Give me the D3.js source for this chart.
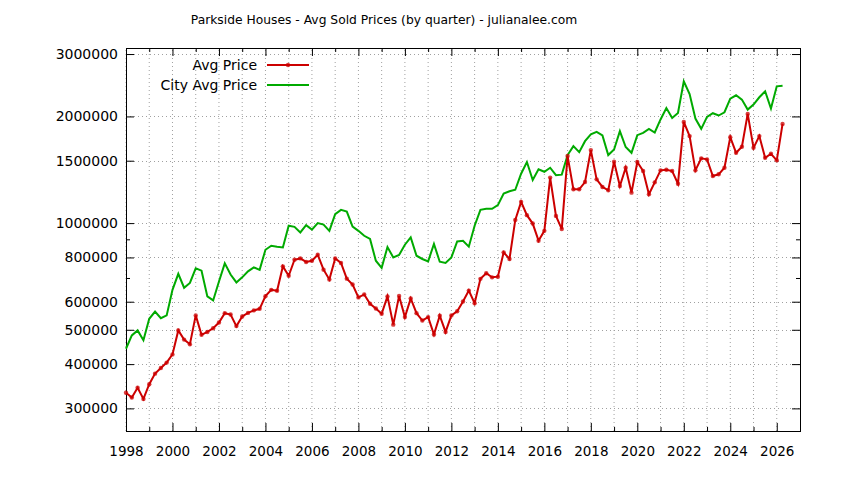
<!DOCTYPE html>
<html>
<head>
<meta charset="utf-8">
<script src="https://cdn.jsdelivr.net/npm/d3@7"></script>
<style>
  html, body { margin: 0; padding: 0; background: #fff; }
  svg { display: block; }
  text { font-family: "DejaVu Sans", sans-serif; fill: #000; }
</style>
</head>
<body>
<svg id="chart" width="844" height="480"></svg>
<script>
const title = "Parkside Houses - Avg Sold Prices (by quarter) - julianalee.com";
const seriesNames = ["Avg Price", "City Avg Price"];
const startYear = 1998;
const avgPrice = [
  332000, 322000, 343000, 319000, 351000, 376000, 390000, 404000,
  426000, 498000, 469000, 455000, 549000, 484000, 493000, 505000,
  524000, 557000, 552000, 512000, 545000, 558000, 567000, 573000,
  622000, 648000, 644000, 755000, 710000, 788000, 795000, 777000,
  783000, 814000, 739000, 693000, 795000, 772000, 697000, 671000,
  617000, 629000, 592000, 574000, 555000, 621000, 517000, 623000,
  543000, 613000, 557000, 531000, 543000, 485000, 548000, 493000,
  549000, 564000, 601000, 645000, 594000, 696000, 722000, 703000,
  706000, 827000, 792000, 1021000, 1148000, 1053000, 997000, 892000,
  951000, 1344000, 1048000, 962000, 1546000, 1246000, 1246000, 1306000,
  1607000, 1329000, 1265000, 1238000, 1490000, 1273000, 1433000, 1219000,
  1487000, 1403000, 1206000, 1303000, 1409000, 1415000, 1403000, 1292000,
  1930000, 1760000, 1409000, 1523000, 1513000, 1358000, 1373000, 1433000,
  1748000, 1579000, 1642000, 2033000, 1631000, 1760000, 1529000, 1569000,
  1504000, 1905000
];
const cityAvgPrice = [
  442000, 482000, 498000, 467000, 537000, 563000, 539000, 549000,
  648000, 719000, 657000, 678000, 745000, 734000, 621000, 605000,
  684000, 770000, 716000, 680000, 703000, 731000, 750000, 738000,
  841000, 863000, 858000, 854000, 983000, 976000, 941000, 987000,
  959000, 1000000, 990000, 951000, 1060000, 1090000, 1078000, 978000,
  951000, 921000, 902000, 783000, 748000, 856000, 800000, 813000,
  869000, 911000, 809000, 792000, 780000, 873000, 778000, 772000,
  800000, 888000, 892000, 858000, 983000, 1090000, 1097000, 1097000,
  1124000, 1211000, 1230000, 1242000, 1378000, 1487000, 1323000, 1418000,
  1396000, 1433000, 1365000, 1370000, 1556000, 1649000, 1586000, 1703000,
  1780000, 1809000, 1768000, 1556000, 1614000, 1817000, 1639000, 1579000,
  1771000, 1798000, 1845000, 1802000, 1961000, 2113000, 1981000, 2046000,
  2513000, 2314000, 1973000, 1845000, 1994000, 2042000, 2012000, 2055000,
  2246000, 2295000, 2231000, 2091000, 2161000, 2265000, 2355000, 2105000,
  2432000, 2443000
];
const yTickValues = [300000, 400000, 500000, 600000, 800000, 1000000, 1500000, 2000000, 3000000];
const yMinorTickValues = [700000, 900000];
const xTickValues = [1998, 2000, 2002, 2004, 2006, 2008, 2010, 2012, 2014, 2016, 2018, 2020, 2022, 2024, 2026];
const xMinorTickValues = [1999, 2001, 2003, 2005, 2007, 2009, 2011, 2013, 2015, 2017, 2019, 2021, 2023, 2025];
const xDomain = [1998, 2027];
const yDomain = [259000, 3120000];

const colors = { avg: "#cc0000", city: "#00aa00", grid: "#a0a0a0" };
const W = 844, H = 480;
const m = { left: 126, right: 44, top: 48, bottom: 49 };
const svg = d3.select("#chart");

const x = d3.scaleLinear().domain(xDomain).range([m.left, W - m.right]);
const y = d3.scaleLog().domain(yDomain).range([H - m.bottom, m.top]);

const avgData = avgPrice.map((v, i) => ({ t: startYear + i / 4, v }));
const cityData = cityAvgPrice.map((v, i) => ({ t: startYear + i / 4, v }));

// grid
const g = svg.append("g");
g.selectAll(".vg").data(xTickValues.concat(xMinorTickValues)).enter().append("line")
  .attr("x1", d => x(d)).attr("x2", d => x(d))
  .attr("y1", y.range()[0]).attr("y2", y.range()[1])
  .attr("stroke", colors.grid).attr("stroke-width", 1).attr("stroke-dasharray", "1,3");
g.selectAll(".hg").data(yTickValues).enter().append("line")
  .attr("x1", x.range()[0]).attr("x2", x.range()[1])
  .attr("y1", d => Math.round(y(d)) + 0.5).attr("y2", d => Math.round(y(d)) + 0.5)
  .attr("stroke", colors.grid).attr("stroke-width", 1).attr("stroke-dasharray", "1,3");

// axes (inward ticks, mirrored)
const tickFmt = d3.format("d");
svg.append("g").attr("transform", `translate(0,${y.range()[0]})`)
  .call(d3.axisBottom(x).tickValues(xTickValues).tickFormat(tickFmt).tickSizeInner(-8).tickSizeOuter(0).tickPadding(15))
  .call(a => a.select(".domain").remove())
  .call(a => a.selectAll("text").attr("font-size", 13.5).attr("font-family", "DejaVu Sans"));
svg.append("g").attr("transform", `translate(0,${y.range()[0]})`)
  .call(d3.axisBottom(x).tickValues(xMinorTickValues).tickFormat("").tickSizeInner(-4).tickSizeOuter(0))
  .call(a => a.select(".domain").remove());
svg.append("g").attr("transform", `translate(0,${y.range()[1]})`)
  .call(d3.axisTop(x).tickValues(xTickValues).tickFormat("").tickSizeInner(-8).tickSizeOuter(0))
  .call(a => a.select(".domain").remove());
svg.append("g").attr("transform", `translate(0,${y.range()[1]})`)
  .call(d3.axisTop(x).tickValues(xMinorTickValues).tickFormat("").tickSizeInner(-4).tickSizeOuter(0))
  .call(a => a.select(".domain").remove());

svg.append("g").attr("transform", `translate(${x.range()[0]},0)`)
  .call(d3.axisLeft(y).tickValues(yTickValues).tickFormat(tickFmt).tickSizeInner(-8).tickSizeOuter(0).tickPadding(8))
  .call(a => a.select(".domain").remove())
  .call(a => a.selectAll("text").attr("font-size", 14).attr("font-family", "DejaVu Sans"));
svg.append("g").attr("transform", `translate(${x.range()[0]},0)`)
  .call(d3.axisLeft(y).tickValues(yMinorTickValues).tickFormat("").tickSizeInner(-4).tickSizeOuter(0))
  .call(a => a.select(".domain").remove());
svg.append("g").attr("transform", `translate(${x.range()[1]},0)`)
  .call(d3.axisRight(y).tickValues(yTickValues).tickFormat("").tickSizeInner(-8).tickSizeOuter(0))
  .call(a => a.select(".domain").remove());
svg.append("g").attr("transform", `translate(${x.range()[1]},0)`)
  .call(d3.axisRight(y).tickValues(yMinorTickValues).tickFormat("").tickSizeInner(-4).tickSizeOuter(0))
  .call(a => a.select(".domain").remove());

svg.selectAll(".tick line").attr("stroke", "#000");

// border
svg.append("rect")
  .attr("x", x.range()[0] + 0.5).attr("y", y.range()[1] + 0.5)
  .attr("width", x.range()[1] - x.range()[0]).attr("height", y.range()[0] - y.range()[1])
  .attr("fill", "none").attr("stroke", "#000").attr("stroke-width", 1);

// lines
const line = d3.line().x(d => x(d.t)).y(d => y(d.v));
svg.append("path").datum(cityData).attr("d", line)
  .attr("fill", "none").attr("stroke", colors.city).attr("stroke-width", 2).attr("stroke-linejoin", "miter");
svg.append("path").datum(avgData).attr("d", line)
  .attr("fill", "none").attr("stroke", colors.avg).attr("stroke-width", 2).attr("stroke-linejoin", "miter");
svg.append("g").selectAll("circle").data(avgData).enter().append("circle")
  .attr("cx", d => x(d.t)).attr("cy", d => y(d.v)).attr("r", 2.2)
  .attr("fill", colors.avg).attr("fill-opacity", 0.75);

// legend
const lg = svg.append("g");
const legendItems = [
  { name: seriesNames[0], color: colors.avg, marker: true },
  { name: seriesNames[1], color: colors.city, marker: false }
];
legendItems.forEach((it, i) => {
  const ly = 65 + i * 20;
  lg.append("text").attr("x", 257).attr("y", ly).attr("dy", "0.36em")
    .attr("text-anchor", "end").attr("font-size", 14).text(it.name);
  lg.append("line").attr("x1", 267).attr("x2", 309).attr("y1", ly).attr("y2", ly)
    .attr("stroke", it.color).attr("stroke-width", 2);
  if (it.marker) lg.append("circle").attr("cx", 288).attr("cy", ly).attr("r", 2.2)
    .attr("fill", it.color).attr("fill-opacity", 0.75);
});

// title
svg.append("text").attr("x", 384).attr("y", 24).attr("text-anchor", "middle")
  .attr("font-size", 12.3).text(title);
</script>
</body>
</html>
